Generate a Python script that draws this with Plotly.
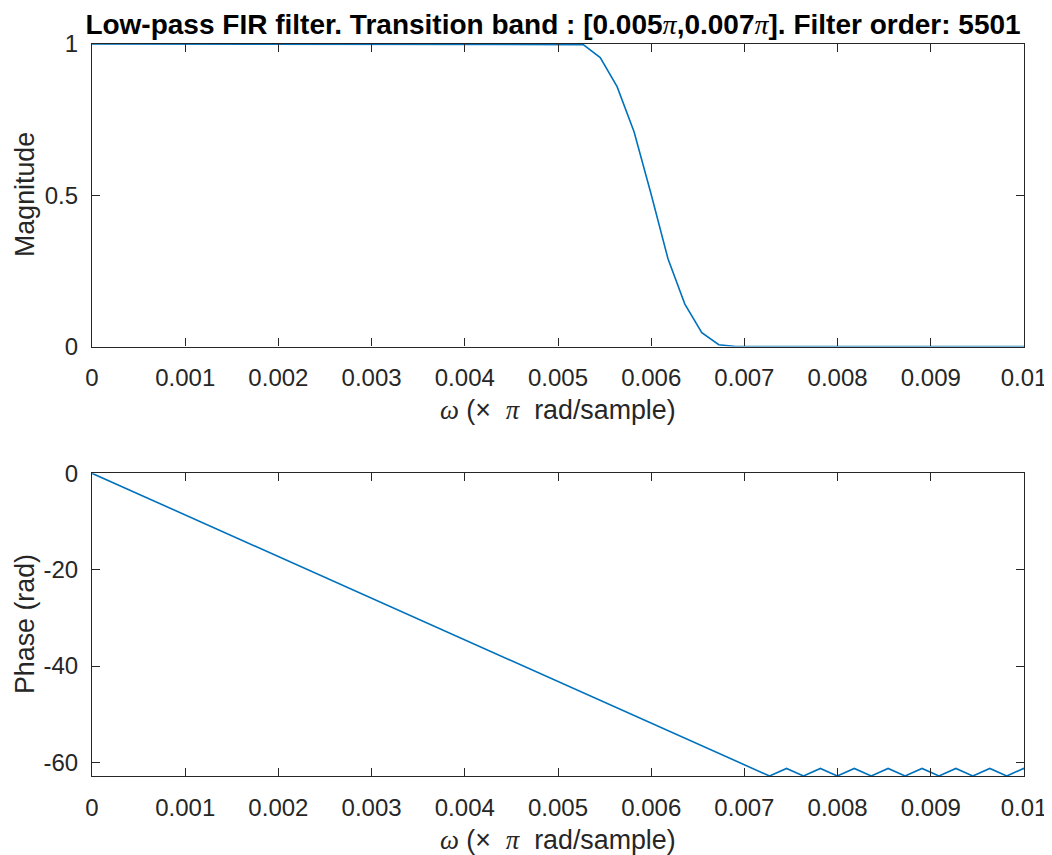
import plotly.graph_objects as go
from plotly.subplots import make_subplots

# ---- data ----
mag_freq = [0.0, 0.005089, 0.005271, 0.005453, 0.005634, 0.005816, 0.005998,
            0.006180, 0.006361, 0.006543, 0.006725, 0.006907, 0.0102]
mag_vals = [1.0, 1.0, 0.998, 0.955, 0.859, 0.710, 0.505,
            0.290, 0.140, 0.046, 0.006, 0.0, 0.0]

phase_freq = [0.0, 0.007270, 0.007452, 0.007634, 0.007815, 0.007997, 0.008179,
              0.008361, 0.008542, 0.008724, 0.008906, 0.009088, 0.009269,
              0.009451, 0.009633, 0.009815, 0.009996, 0.010178]
phase_vals = [0.0, -62.82, -61.25, -62.82, -61.25, -62.82, -61.25,
              -62.82, -61.25, -62.82, -61.25, -62.82, -61.25,
              -62.82, -61.25, -62.82, -61.25, -62.82]

x_ticks = [0, 0.001, 0.002, 0.003, 0.004, 0.005, 0.006, 0.007, 0.008, 0.009, 0.01]
x_ticklabels = ["0", "0.001", "0.002", "0.003", "0.004", "0.005", "0.006",
                "0.007", "0.008", "0.009", "0.01"]
mag_ticks = [0, 0.5, 1]
mag_ticklabels = ["0", "0.5", "1"]
phase_ticks = [0, -20, -40, -60]
phase_ticklabels = ["0", "-20", "-40", "-60"]

PI = "<span style='font-family:\"Liberation Serif\";font-weight:normal'><i>π</i></span>"
title_text = ("<b>Low-pass FIR filter. Transition band : [0.005" + PI + ",0.007" + PI +
              "]. Filter order: 5501</b>")
SERIF = "<span style='font-family:\"Liberation Serif\"'><i>{}</i></span>"
xlabel = (SERIF.format("ω") + " (× &nbsp;" + SERIF.format("π") + "&nbsp; rad/sample)")

LINE = "#0072BD"
AX = "#262626"
FONT = "Liberation Sans, Arial, sans-serif"
FS = 24
LFS = 26.8

# page body has an 8px margin, so the figure sits at (8, 8) in the window
OFF = 8
W, H = 1052 - OFF, 855 - OFF
L, R, T, B = 92 - OFF, 28, 44 - OFF, 79
PH = H - T - B
PW = W - L - R


def py(screen_y):
    return (H - B - (screen_y - OFF)) / PH


def px(screen_x):
    return ((screen_x - OFF) - L) / PW


fig = make_subplots(rows=2, cols=1)
fig.add_trace(go.Scatter(x=mag_freq, y=mag_vals, mode="lines",
                         line=dict(color=LINE, width=1.6), showlegend=False), row=1, col=1)
fig.add_trace(go.Scatter(x=phase_freq, y=phase_vals, mode="lines",
                         line=dict(color=LINE, width=1.6), showlegend=False), row=2, col=1)

common_x = dict(range=[0, 0.01], tickvals=x_ticks, ticktext=x_ticklabels,
                ticks="inside", ticklen=8, tickwidth=1, tickcolor=AX,
                showline=True, linecolor=AX, linewidth=1.2, mirror="ticks",
                showgrid=False, zeroline=False, automargin=False,
                ticklabelstandoff=10,
                tickfont=dict(family=FONT, size=FS, color=AX))
common_y = dict(ticks="inside", ticklen=8, tickwidth=1, tickcolor=AX,
                showline=True, linecolor=AX, linewidth=1.2, mirror="ticks",
                showgrid=False, zeroline=False, automargin=False,
                ticklabelstandoff=8,
                tickfont=dict(family=FONT, size=FS, color=AX))

top_dom = [py(346.5), 1.0]
bot_dom = [0.0, py(473.3)]

fig.update_layout(
    width=W, height=H,
    paper_bgcolor="white", plot_bgcolor="white",
    margin=dict(l=L, r=R, t=T, b=B),
    xaxis=dict(domain=[0, 1], anchor="y", **common_x),
    xaxis2=dict(domain=[0, 1], anchor="y2", **common_x),
    yaxis=dict(domain=top_dom, anchor="x", range=[0, 1],
               tickvals=mag_ticks, ticktext=mag_ticklabels, **common_y),
    yaxis2=dict(domain=bot_dom, anchor="x2", range=[-62.82, 0],
                tickvals=phase_ticks, ticktext=phase_ticklabels, **common_y),
    title=dict(text=title_text, x=(553 - OFF) / W, xanchor="center", xref="container",
               y=1 - (24 - OFF) / H, yanchor="middle", automargin=False,
               font=dict(family=FONT, size=28, color="#000000")),
)

ann_font = dict(family=FONT, size=LFS, color=AX)
fig.add_annotation(text=xlabel, xref="paper", yref="paper", x=px(558), y=py(410),
                   xanchor="center", yanchor="middle", showarrow=False, font=ann_font)
fig.add_annotation(text=xlabel, xref="paper", yref="paper", x=px(558), y=py(840),
                   xanchor="center", yanchor="middle", showarrow=False, font=ann_font)
fig.add_annotation(text="Magnitude", xref="paper", yref="paper", x=px(25), y=py(195),
                   xanchor="center", yanchor="middle", showarrow=False, textangle=-90,
                   font=ann_font)
fig.add_annotation(text="Phase (rad)", xref="paper", yref="paper", x=px(25), y=py(624),
                   xanchor="center", yanchor="middle", showarrow=False, textangle=-90,
                   font=ann_font)

fig.write_html("out.html")
